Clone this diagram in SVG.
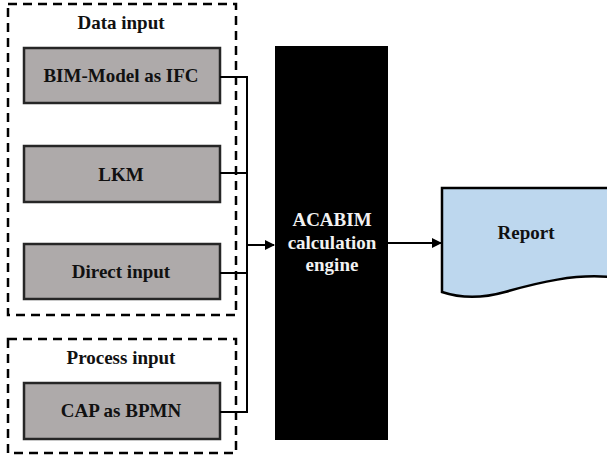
<svg xmlns="http://www.w3.org/2000/svg" width="607" height="468" viewBox="0 0 607 468">
<style>
.grp{fill:none;stroke:#000;stroke-width:2.5;stroke-dasharray:9,6}
.box{fill:#aeaaaa;stroke:#262626;stroke-width:2.5}
.t{font-family:"Liberation Serif","Times New Roman",serif;font-weight:bold;font-size:19px;fill:#111;text-anchor:middle}
.w{fill:#f2f2f2}
.ln{fill:none;stroke:#000;stroke-width:2}
</style>
<defs>
<marker id="ah" markerWidth="10" markerHeight="10" refX="9" refY="5" orient="auto" markerUnits="userSpaceOnUse">
<path d="M0,0 L10,5 L0,10 z" fill="#000"/>
</marker>
</defs>
<g id="data-input">
<rect class="grp" x="8" y="4" width="228" height="311"/>
<text class="t" x="121" y="29">Data input</text>
</g>
<g id="process-input">
<rect class="grp" x="8" y="339" width="228" height="114"/>
<text class="t" x="121" y="364">Process input</text>
</g>
<g id="bim">
<rect class="box" x="24" y="48" width="196" height="55"/>
<text class="t" x="121" y="82">BIM-Model as IFC</text>
</g>
<g id="lkm">
<rect class="box" x="24" y="146" width="196" height="56"/>
<text class="t" x="121" y="181">LKM</text>
</g>
<g id="direct">
<rect class="box" x="24" y="244" width="196" height="55"/>
<text class="t" x="121" y="278">Direct input</text>
</g>
<g id="cap">
<rect class="box" x="24" y="383" width="196" height="56"/>
<text class="t" x="121" y="417">CAP as BPMN</text>
</g>
<g id="engine">
<rect x="275" y="46" width="113" height="394" fill="#000"/>
<text class="t w" x="332" y="226">ACABIM</text>
<text class="t w" x="332" y="249">calculation</text>
<text class="t w" x="332" y="271">engine</text>
</g>
<g id="report">
<path d="M442,188 L609,188 L609,277 C575,274 540,282 505,292 C480,299 460,298 442,292 Z" fill="#bdd7ee" stroke="#000" stroke-width="2.5"/>
<text class="t" x="526" y="239">Report</text>
</g>
<g id="connectors">
<path class="ln" d="M220,77 H247 M220,173 H247 M220,273 H247 M220,412 H247 M247,76 V413"/>
<path class="ln" d="M247,245 H274" marker-end="url(#ah)"/>
<path class="ln" d="M388,243 H441" marker-end="url(#ah)"/>
</g>
</svg>
